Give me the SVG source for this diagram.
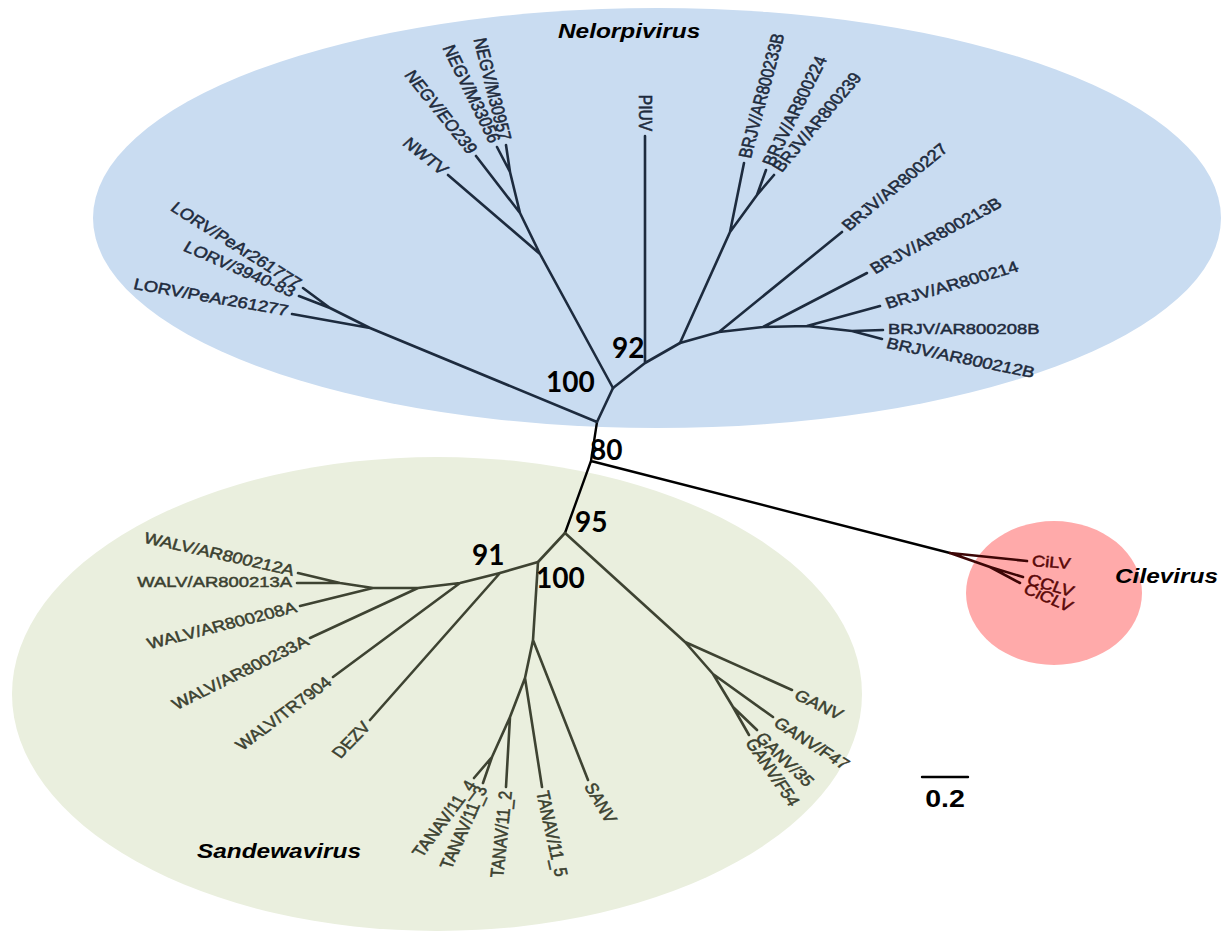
<svg xmlns="http://www.w3.org/2000/svg" width="1227" height="931" viewBox="0 0 1227 931">
<style>
.lb{font-family:"Liberation Sans",Arial,sans-serif;font-size:15.5px;dominant-baseline:central;stroke-width:0.5px}
.b{fill:#1e2b3d;stroke:#1e2b3d}.g{fill:#3b4130;stroke:#3b4130}.r{fill:#5a0808;stroke:#5a0808}
.e{text-anchor:end}
.bs{font-family:Lato,"Open Sans",sans-serif;font-weight:bold;font-size:28px;fill:#000}
.cl{font-family:"Liberation Sans",Arial,sans-serif;font-weight:bold;font-style:italic;font-size:20.5px;fill:#000}
.lnb{stroke:#1d2b3e;stroke-width:2.6;fill:none;stroke-linecap:round;stroke-linejoin:round}
.lng{stroke:#3e4332;stroke-width:2.6;fill:none;stroke-linecap:round;stroke-linejoin:round}
.lnr{stroke:#3d0606;stroke-width:2.6;fill:none;stroke-linecap:round;stroke-linejoin:round}
.lnk{stroke:#000;stroke-width:2.4;fill:none;stroke-linecap:round}
</style>
<rect width="1227" height="931" fill="#fff"/>
<g id="clusters">
<ellipse id="nelorpivirus-area" cx="657" cy="218" rx="564" ry="210" fill="#c9dcf1"/>
<ellipse id="sandewavirus-area" cx="437" cy="694" rx="425" ry="237" fill="#eaefde"/>
<ellipse id="cilevirus-area" cx="1054" cy="593" rx="88" ry="72" fill="#ffaaaa"/>
</g>
<g id="connectors">
<path class="lnk" d="M597,422 L591,461 L565,533 M591,461 L950,553"/>
<path class="lnb" d="M597,422 L613,388 M597,422 L370,328 L292,314 M370,328 L330,308 L303,288 M330,308 L299,296"/>
<path class="lnb" d="M613,388 L540,254 L448,175 M540,254 L520,213 L476,156 M520,213 L510,172 L497,147 M510,172 L506,145"/>
<path class="lnb" d="M613,388 L645,363 L645,136 M645,363 L680,343 L730,232 L744,163 M730,232 L757,195 L766,170 M757,195 L774,175"/>
<path class="lnb" d="M680,343 L719,332 L842,232 M719,332 L763,327 L867,273 M763,327 L807,326 L880,306 M807,326 L852,331 L883,330 M852,331 L882,339"/>
<path class="lng" d="M565,533 L538,562 L500,573 L460,583 L418,588 L373,588 L340,583 L298,573 M340,583 L297,583 M373,588 L300,606 M418,588 L310,638 M460,583 L333,677 M500,573 L370,720"/>
<path class="lng" d="M538,562 L533,640 L588,780 M533,640 L525,678 L542,787 M525,678 L510,717 L506,787 M510,717 L492,757 L474,778 M492,757 L483,783"/>
<path class="lng" d="M565,533 L685,642 L792,690 M685,642 L713,674 L773,717 M713,674 L733,707 L757,730 M733,707 L749,735"/>
<path class="lnr" d="M950,553 L1027,561 M950,553 L990,567 L1023,577 M990,567 L1020,583"/>
<path id="scale-bar" class="lnk" d="M922,777 L968,777"/>
</g>
<g id="nelorpivirus">
<text class="lb b e" transform="translate(299,285) scale(1.19,1) rotate(36.8)">LORV/PeAr261777</text>
<text class="lb b e" transform="translate(294,293) scale(1.19,1) rotate(27.2)">LORV/3940-83</text>
<text class="lb b e" transform="translate(288,311) scale(1.19,1) rotate(11.8)">LORV/PeAr261277</text>
<text class="lb b e" transform="translate(445,172) scale(1.19,1) rotate(43.4)">NWTV</text>
<text class="lb b e" transform="translate(473,152) scale(1.19,1) rotate(55.9)">NEGV/EO239</text>
<text class="lb b e" transform="translate(495,142) scale(1.19,1) rotate(67.6)">NEGV/M33056</text>
<text class="lb b e" transform="translate(505,140) scale(1.19,1) rotate(78)">NEGV/M30957</text>
<text class="lb b e" transform="translate(645,131) scale(1.19,1) rotate(90)">PIUV</text>
<text class="lb b" transform="translate(745,158) scale(1.19,1) rotate(-77.2)">BRJV/AR800233B</text>
<text class="lb b" transform="translate(768,165) scale(1.19,1) rotate(-67.2)">BRJV/AR800224</text>
<text class="lb b" transform="translate(777,170) scale(1.19,1) rotate(-54.6)">BRJV/AR800239</text>
<text class="lb b" transform="translate(845,228) scale(1.19,1) rotate(-44.2)">BRJV/AR800227</text>
<text class="lb b" transform="translate(872,270) scale(1.19,1) rotate(-32.4)">BRJV/AR800213B</text>
<text class="lb b" transform="translate(886,304) scale(1.19,1) rotate(-18.8)">BRJV/AR800214</text>
<text class="lb b" transform="translate(888,329) scale(1.19,1)">BRJV/AR800208B</text>
<text class="lb b" transform="translate(887,343) scale(1.19,1) rotate(13.7)">BRJV/AR800212B</text>
<text class="cl" transform="translate(558,38) scale(1.19,1)">Nelorpivirus</text>
</g>
<g id="sandewavirus">
<text class="lb g e" transform="translate(294,571) scale(1.19,1) rotate(14.9)">WALV/AR800212A</text>
<text class="lb g e" transform="translate(292,582) scale(1.19,1)">WALV/AR800213A</text>
<text class="lb g e" transform="translate(296,607) scale(1.19,1) rotate(-16.7)">WALV/AR800208A</text>
<text class="lb g e" transform="translate(307,640) scale(1.19,1) rotate(-30.4)">WALV/AR800233A</text>
<text class="lb g e" transform="translate(329,680) scale(1.19,1) rotate(-41.5)">WALV/TR7904</text>
<text class="lb g e" transform="translate(367,724) scale(1.19,1) rotate(-50.8)">DEZV</text>
<text class="lb g e" transform="translate(472,782) scale(1.19,1) rotate(-57.9)">TANAV/11_4</text>
<text class="lb g e" transform="translate(482,787) scale(1.19,1) rotate(-69.4)">TANAV/11_3</text>
<text class="lb g e" transform="translate(506,791) scale(1.19,1) rotate(-85.1)">TANAV/11_2</text>
<text class="lb g" transform="translate(542,791) scale(1.19,1) rotate(79.3)">TANAV/11_5</text>
<text class="lb g" transform="translate(589,784) scale(1.19,1) rotate(63.4)">SANV</text>
<text class="lb g" transform="translate(796,694) scale(1.19,1) rotate(29.7)">GANV</text>
<text class="lb g" transform="translate(776,721) scale(1.19,1) rotate(37.2)">GANV/F47</text>
<text class="lb g" transform="translate(759,735) scale(1.19,1) rotate(48.9)">GANV/35</text>
<text class="lb g" transform="translate(750,740) scale(1.19,1) rotate(59.8)">GANV/F54</text>
<text class="cl" transform="translate(197,858) scale(1.19,1)">Sandewavirus</text>
</g>
<g id="cilevirus">
<text class="lb r" transform="translate(1032,561) scale(1.19,1) rotate(5)">CiLV</text>
<text class="lb r" transform="translate(1028,579) scale(1.19,1) rotate(19)">CCLV</text>
<text class="lb r" transform="translate(1025,588) scale(1.19,1) rotate(26.7)">CiCLV</text>
<text class="cl" transform="translate(1115,583) scale(1.19,1)">Cilevirus</text>
</g>
<g id="bootstrap">
<text class="bs" x="612" y="358">92</text>
<text class="bs" x="546" y="392">100</text>
<text class="bs" x="590" y="460">80</text>
<text class="bs" x="575" y="532">95</text>
<text class="bs" x="536" y="588">100</text>
<text class="bs" x="472" y="565">91</text>
</g>
<g id="scale">
<text transform="translate(945,807) scale(1.19,1)" text-anchor="middle" style="font-family:'Liberation Sans',Arial,sans-serif;font-weight:bold;font-size:24px">0.2</text>
</g>
</svg>
